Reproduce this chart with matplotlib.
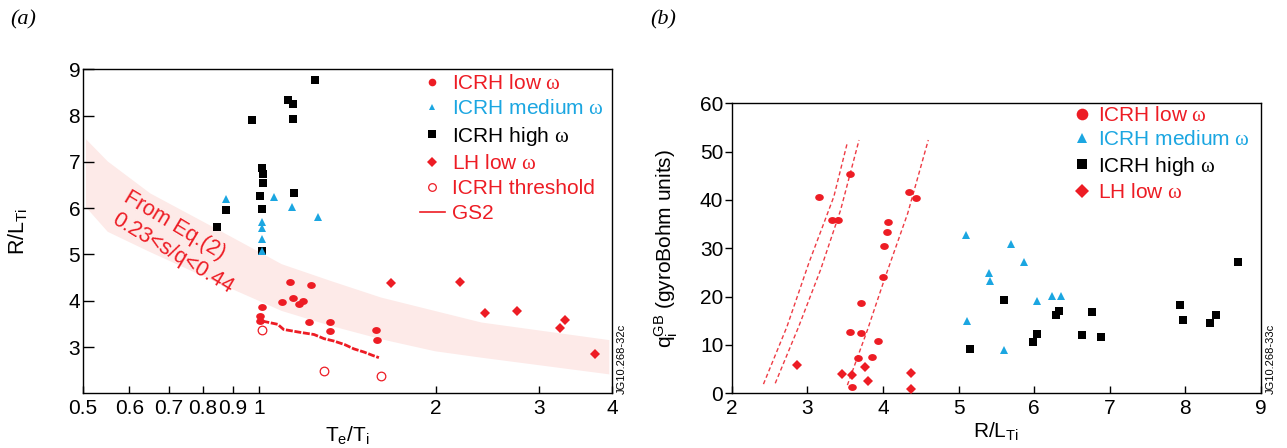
import matplotlib
matplotlib.use('Agg')
import matplotlib.pyplot as plt
from matplotlib.lines import Line2D
from matplotlib.path import Path
from matplotlib.ticker import FixedLocator, FixedFormatter, NullLocator

plt.rcParams['font.family'] = ['Liberation Sans', 'DejaVu Sans']
plt.rcParams['mathtext.fontset'] = 'custom'
plt.rcParams['mathtext.rm'] = 'Liberation Sans'
plt.rcParams['mathtext.it'] = 'Liberation Sans:italic'
plt.rcParams['mathtext.sf'] = 'Liberation Serif'   # used for the serif omega

RED = '#ED1C24'
BLUE = '#1BA6E1'
BAND = '#FDEAE8'
DASH_RED = '#EE3B44'

# ---- (a) R/L_Ti vs Te/Ti ----
icrh_low_te = [1.127, 1.224, 1.012, 1.092, 1.14, 1.167, 1.188, 1.004, 1.004,
               1.214, 1.321, 1.32, 1.579, 1.59]
icrh_low_r = [4.40, 4.35, 3.86, 3.98, 4.05, 3.92, 3.99, 3.66, 3.57,
              3.53, 3.55, 3.34, 3.37, 3.16]

icrh_med_te = [0.876, 1.06, 1.136, 1.257, 1.012, 1.012, 1.012, 1.012]
icrh_med_r = [6.20, 6.25, 6.02, 5.80, 5.70, 5.57, 5.33, 5.08]

icrh_high_te = [1.247, 1.12, 1.143, 0.972, 1.14, 1.012, 1.015, 1.015, 1.004,
                1.147, 1.012, 0.878, 0.847, 1.012]
icrh_high_r = [8.76, 8.33, 8.26, 7.90, 7.92, 6.86, 6.73, 6.55, 6.27,
               6.32, 5.99, 5.97, 5.60, 5.08]

lh_low_te = [1.677, 2.20, 2.43, 2.75, 3.33, 3.26, 3.745]
lh_low_r = [4.38, 4.40, 3.74, 3.78, 3.59, 3.41, 2.84]

thresh_te = [1.01, 1.29, 1.614]
thresh_r = [3.37, 2.49, 2.37]

gs2_te = [1.012, 1.075, 1.10, 1.17, 1.24, 1.29, 1.34, 1.40, 1.45, 1.51, 1.56, 1.60]
gs2_r = [3.56, 3.49, 3.38, 3.32, 3.27, 3.18, 3.13, 3.05, 2.96, 2.89, 2.82, 2.77]

# Eq.(2) band, 0.23 < s/q < 0.44
band_te = [0.505, 0.55, 0.65, 0.83, 1.09, 1.32, 1.61, 1.99, 2.39, 3.95]
band_hi = [7.50, 7.02, 6.33, 5.61, 4.80, 4.44, 4.08, 3.79, 3.54, 3.16]
band_lo = [6.03, 5.50, 5.06, 4.45, 3.79, 3.47, 3.18, 2.92, 2.78, 2.42]

te_ticks = [0.5, 0.6, 0.7, 0.8, 0.9, 1, 2, 3, 4]
te_labels = ['0.5', '0.6', '0.7', '0.8', '0.9', '1', '2', '3', '4']

# ---- (b) q_i^GB vs R/L_Ti ----
b_low_r = [3.161, 3.564, 3.33, 3.41, 4.35, 4.44, 4.07, 4.05, 4.016, 4.003,
           3.706, 3.564, 3.706, 3.93, 3.67, 3.86, 3.59]
b_low_q = [40.6, 45.4, 35.8, 35.8, 41.6, 40.5, 35.4, 33.4, 30.4, 24.1,
           18.7, 12.7, 12.4, 10.8, 7.3, 7.6, 1.4]

b_med_r = [5.10, 5.70, 5.865, 5.40, 5.41, 6.24, 6.36, 6.04, 5.11, 5.60]
b_med_q = [32.7, 30.9, 27.2, 24.95, 23.3, 20.2, 20.2, 19.1, 15.0, 8.96]

b_high_r = [5.155, 5.60, 5.99, 6.04, 6.29, 6.33, 6.63, 6.765, 6.885,
            7.935, 7.97, 8.32, 8.40, 8.69]
b_high_q = [9.1, 19.4, 10.7, 12.2, 16.1, 17.0, 12.1, 16.9, 11.7,
            18.3, 15.2, 14.6, 16.2, 27.2]

b_lh_r = [2.86, 3.453, 3.587, 3.763, 3.80, 4.37, 4.37]
b_lh_q = [5.8, 4.06, 3.7, 5.4, 2.6, 4.3, 0.9]

# dashed guide curves
curve1_r = [2.42, 2.731, 3.019, 3.351, 3.53]
curve1_q = [1.9, 13.8, 26.9, 40.7, 51.9]
curve2_r = [2.576, 2.886, 3.174, 3.44, 3.684]
curve2_q = [2.07, 13.8, 25.5, 37.9, 52.4]
curve3_r = [3.53, 3.795, 4.016, 4.327, 4.60]
curve3_q = [1.7, 13.1, 23.4, 37.2, 52.4]

# slightly flattened dot used for the ICRH low omega points
_c = Path.unit_circle()
oval = Path(_c.vertices * [1.0, 0.8], _c.codes)

W, H = 1287, 448
fig = plt.figure(figsize=(W / 100, H / 100), dpi=100)

ax1 = fig.add_axes([83 / W, (H - 393.3) / H, 529 / W, 324 / H])
ax2 = fig.add_axes([731.7 / W, (H - 393.3) / H, 529.3 / W, 290 / H])

for ax in (ax1, ax2):
    for s in ax.spines.values():
        s.set_linewidth(1.0)

# panel (a)
ax1.fill_between(band_te, band_lo, band_hi, color=BAND, lw=0, zorder=0)
ax1.plot(gs2_te, gs2_r, color=RED, lw=2.0, ls=(0, (2.5, 0.6)), zorder=2)
ax1.plot(icrh_high_te, icrh_high_r, 's', color='black', ms=5.8, mew=0, zorder=3)
ax1.plot(icrh_med_te, icrh_med_r, '^', color=BLUE, ms=6.2, mew=0, zorder=4)
ax1.plot(icrh_low_te, icrh_low_r, marker=oval, ls='none', color=RED, ms=6.2, mew=0, zorder=4)
ax1.plot(lh_low_te, lh_low_r, 'D', color=RED, ms=5.2, mew=0, zorder=4)
ax1.plot(thresh_te, thresh_r, 'o', mfc='white', mec=RED, ms=6.2, mew=0.9, ls='none', zorder=4)

ax1.set_xscale('log')
ax1.set_xlim(0.5, 4)
ax1.set_ylim(2, 9)
ax1.xaxis.set_major_locator(FixedLocator(te_ticks))
ax1.xaxis.set_major_formatter(FixedFormatter(te_labels))
ax1.xaxis.set_minor_locator(NullLocator())
ax1.set_yticks([3, 4, 5, 6, 7, 8, 9])
ax1.tick_params(axis='x', direction='in', length=5, width=1, labelsize=15, pad=4)
ax1.tick_params(axis='y', direction='in', length=8, width=1, labelsize=15, pad=2)

ax1.text(0.717, 5.63, 'From Eq.(2)', color=RED, fontsize=15.5, rotation=-31,
         rotation_mode='anchor', ha='center', va='center')
ax1.text(0.71, 5.03, '0.23<s/q<0.44', color=RED, fontsize=15.5, rotation=-31,
         rotation_mode='anchor', ha='center', va='center')

ax1.set_xlabel(r'T$_\mathrm{e}$/T$_\mathrm{i}$', fontsize=15)
ax1.xaxis.set_label_coords(0.5, -0.098)
ax1.set_ylabel(r'R/L$_\mathrm{Ti}$', fontsize=15.5)
ax1.yaxis.set_label_coords(-0.100, 0.5)

omega = r'$\mathsf{\omega}$'
h1 = [Line2D([], [], marker='o', ls='none', color=RED, ms=5.5, mew=0),
      Line2D([], [], marker='^', ls='none', color=BLUE, ms=4.5, mew=0),
      Line2D([], [], marker='s', ls='none', color='black', ms=6.2, mew=0),
      Line2D([], [], marker='D', ls='none', color=RED, ms=5.2, mew=0),
      Line2D([], [], marker='o', ls='none', mfc='white', mec=RED, ms=5.5, mew=0.9),
      Line2D([], [], color=RED, lw=1.2)]
l1 = ['ICRH low ' + omega, 'ICRH medium ' + omega, 'ICRH high ' + omega,
      'LH low ' + omega, 'ICRH threshold', 'GS2']
ax1.legend(h1, l1, loc='upper left', bbox_to_anchor=(0.637, 0.985), frameon=False,
           fontsize=15, labelcolor=[RED, BLUE, 'black', RED, RED, RED],
           handlelength=1.2, handletextpad=0.35, labelspacing=0.3,
           borderpad=0, borderaxespad=0)

# panel (b)
for cr, cq in ((curve1_r, curve1_q), (curve2_r, curve2_q), (curve3_r, curve3_q)):
    ax2.plot(cr, cq, color=DASH_RED, lw=1.0, ls=(0, (3, 2)), zorder=2)
ax2.plot(b_high_r, b_high_q, 's', color='black', ms=5.8, mew=0, zorder=3)
ax2.plot(b_med_r, b_med_q, '^', color=BLUE, ms=6.0, mew=0, zorder=3)
ax2.plot(b_low_r, b_low_q, marker=oval, ls='none', color=RED, ms=6.2, mew=0, zorder=4)
ax2.plot(b_lh_r, b_lh_q, 'D', color=RED, ms=5.2, mew=0, zorder=4)

ax2.set_xlim(2, 9)
ax2.set_ylim(0, 60)
ax2.set_xticks(range(2, 10))
ax2.set_yticks(range(0, 61, 10))
ax2.tick_params(axis='x', direction='in', length=5, width=1, labelsize=15, pad=4)
ax2.tick_params(axis='y', direction='out', length=5, width=1, labelsize=15, pad=1)

ax2.set_xlabel(r'R/L$_\mathrm{Ti}$', fontsize=15)
ax2.xaxis.set_label_coords(0.5, -0.095)
ax2.set_ylabel(r'q$_\mathrm{i}^\mathrm{GB}$ (gyroBohm units)', fontsize=15)
ax2.yaxis.set_label_coords(-0.098, 0.5)

h2 = [Line2D([], [], marker='o', ls='none', color=RED, ms=8.4, mew=0),
      Line2D([], [], marker='^', ls='none', color=BLUE, ms=7.5, mew=0),
      Line2D([], [], marker='s', ls='none', color='black', ms=7.8, mew=0),
      Line2D([], [], marker='D', ls='none', color=RED, ms=7.4, mew=0)]
l2 = ['ICRH low ' + omega, 'ICRH medium ' + omega, 'ICRH high ' + omega,
      'LH low ' + omega]
ax2.legend(h2, l2, loc='upper left', bbox_to_anchor=(0.645, 0.99), frameon=False,
           fontsize=15, labelcolor=[RED, BLUE, 'black', RED],
           handlelength=0.9, handletextpad=0.3, labelspacing=0.25,
           borderpad=0, borderaxespad=0)

fig.text(10 / W, 1 - 20 / H, '(a)', family='Liberation Serif', style='italic',
         fontsize=16, va='center', ha='left')
fig.text(650 / W, 1 - 20 / H, '(b)', family='Liberation Serif', style='italic',
         fontsize=16, va='center', ha='left')
fig.text(622 / W, (H - 394) / H, 'JG10.268-32c', rotation=90, fontsize=8,
         ha='center', va='bottom')
fig.text(1271 / W, (H - 394) / H, 'JG10.268-33c', rotation=90, fontsize=8,
         ha='center', va='bottom')

fig.savefig('out.png', dpi=100)
